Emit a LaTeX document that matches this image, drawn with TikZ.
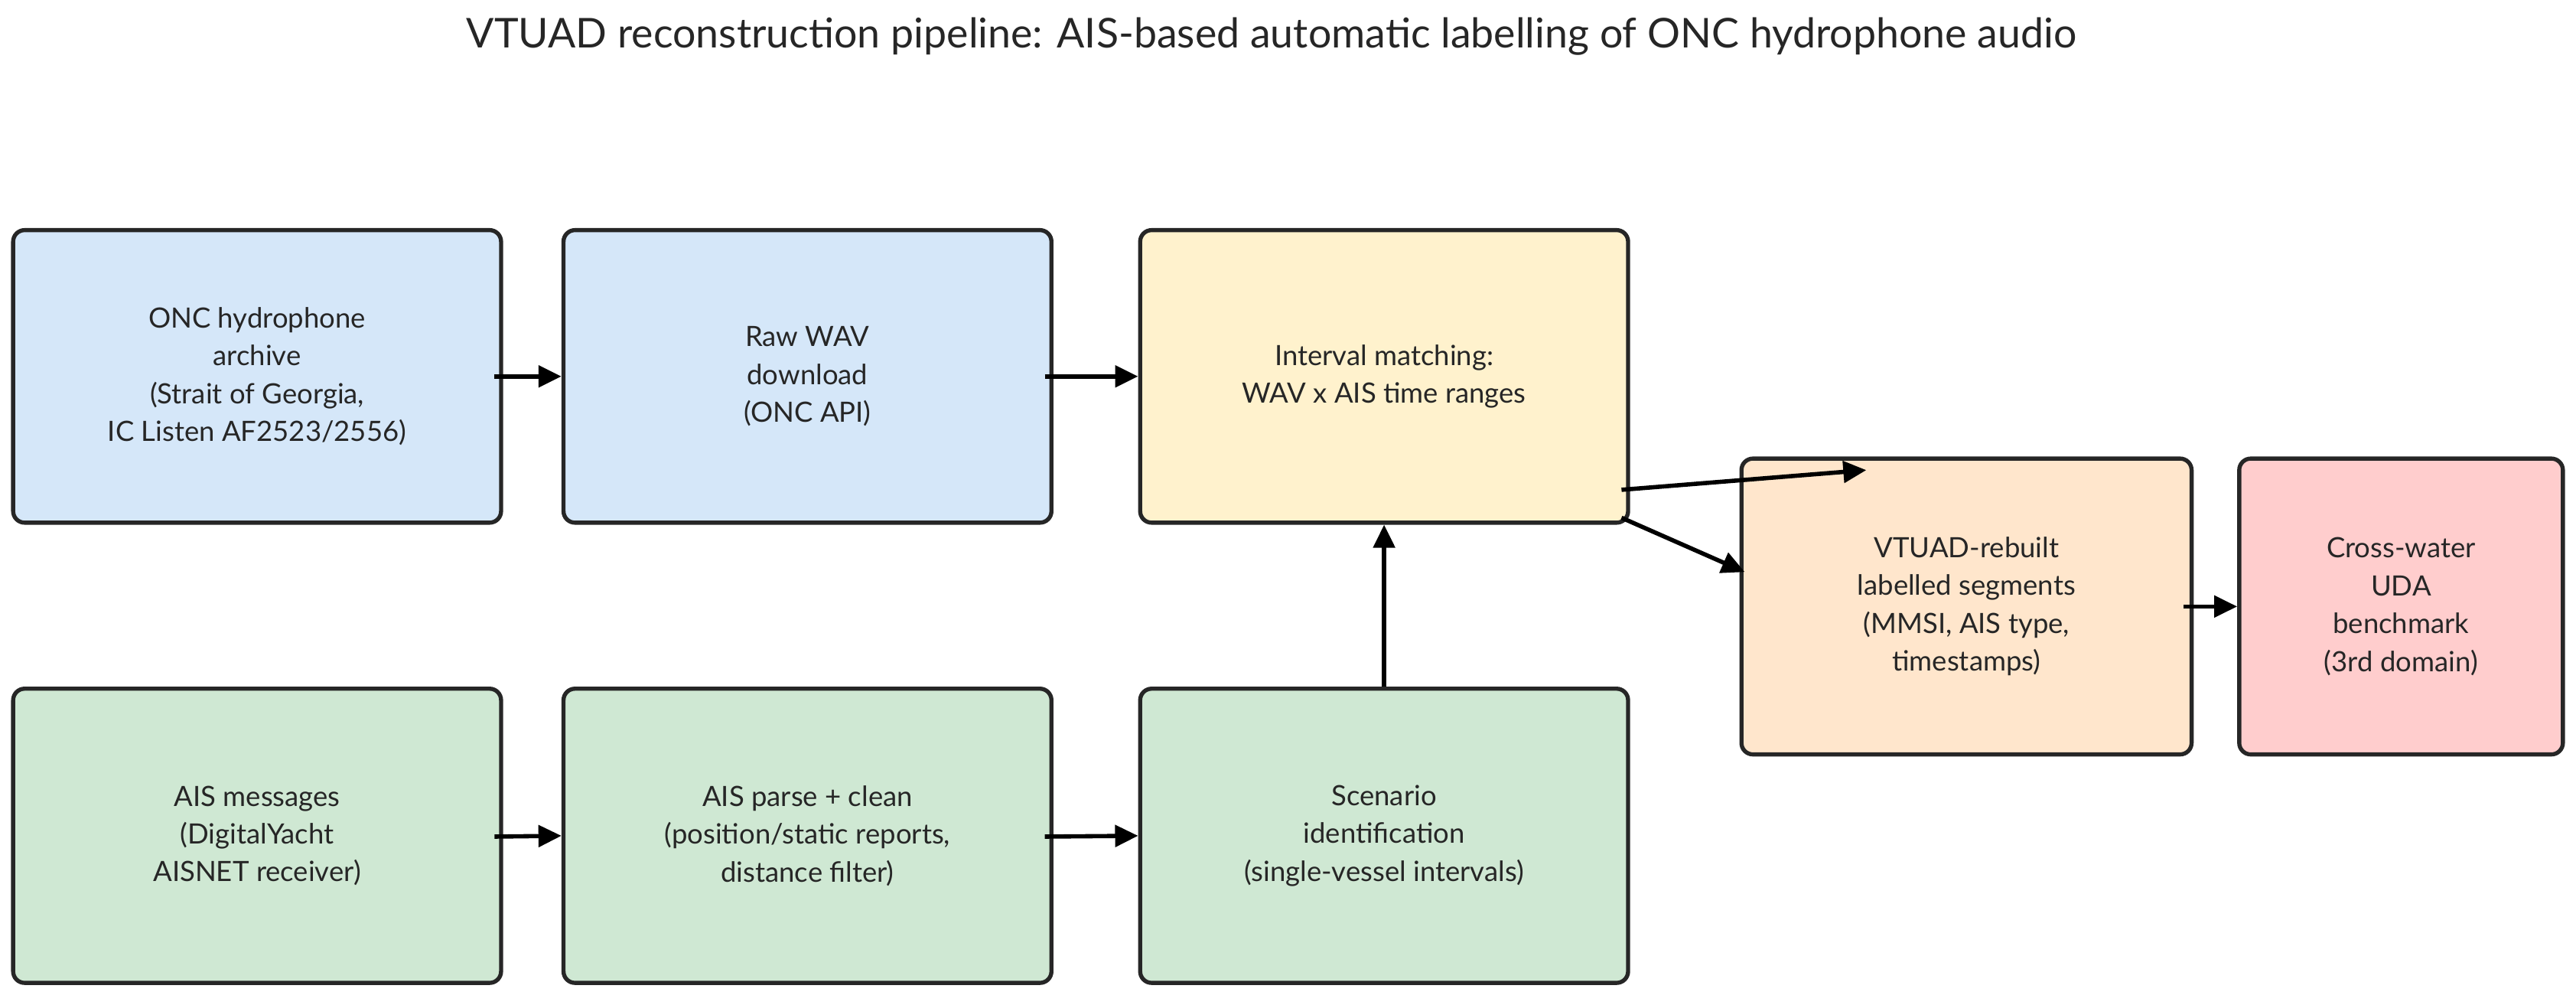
\documentclass[tikz,border=0pt]{standalone}
\usepackage{fontspec}
\setmainfont{Lato}
\usetikzlibrary{arrows.meta}
\definecolor{cblue}{HTML}{D5E7F9}
\definecolor{cgreen}{HTML}{CFE8D3}
\definecolor{cyellow}{HTML}{FFF2CD}
\definecolor{corange}{HTML}{FFE6CC}
\definecolor{cpink}{HTML}{FFCDCD}
\begin{document}
\begin{tikzpicture}[x=1pt,y=-1pt,
  box/.style={draw=black!85,line width=2.5pt,rounded corners=7pt,align=center,
    font=\fontsize{17}{23}\selectfont,text=black!85},
  arr/.style={-{Triangle[length=14pt,width=13pt]},line width=2.6pt}]
\useasboundingbox (0,0) rectangle (1568,611);
\node[font=\fontsize{25}{30}\selectfont,text=black!85] (title) at (774,22) {VTUAD reconstruction pipeline: AIS-based automatic labelling of ONC hydrophone audio};
\node[box,fill=cblue,minimum width=297pt,minimum height=178pt] (onc) at (156.5,229) {ONC hydrophone\\archive\\(Strait of Georgia,\\IC Listen AF2523/2556)};
\node[box,fill=cblue,minimum width=297pt,minimum height=178pt] (wav) at (491.5,229) {Raw WAV\\download\\(ONC API)};
\node[box,fill=cyellow,minimum width=297pt,minimum height=178pt] (match) at (842.5,229) {Interval matching:\\WAV x AIS time ranges};
\node[box,fill=cgreen,minimum width=297pt,minimum height=179pt] (ais) at (156.5,508.5) {AIS messages\\(DigitalYacht\\AISNET receiver)};
\node[box,fill=cgreen,minimum width=297pt,minimum height=179pt] (parse) at (491.5,508.5) {AIS parse + clean\\(position/static reports,\\distance filter)};
\node[box,fill=cgreen,minimum width=297pt,minimum height=179pt] (scen) at (842.5,508.5) {Scenario\\identification\\(single-vessel intervals)};
\node[box,fill=corange,minimum width=274pt,minimum height=180pt] (vt) at (1197,369) {VTUAD-rebuilt\\labelled segments\\(MMSI, AIS type,\\timestamps)};
\node[box,fill=cpink,minimum width=197pt,minimum height=180pt] (uda) at (1461.5,369) {Cross-water\\UDA\\benchmark\\(3rd domain)};
\coordinate (m1) at (987,298);
\coordinate (m2) at (987,315);
\coordinate (v1) at (1136,286);
\draw[arr] (301,229) -- (onc.east -| wav.west);
\draw[arr] (636,229) -- (match.west);
\draw[arr] (301,509) -- (parse.west);
\draw[arr] (636,509) -- (scen.west);
\draw[arr] (scen.north) -- (match.south);
\draw[arr] (m1) -- (v1);
\draw[arr] (m2) -- (1062,348) coordinate (v2);
\draw[arr] (1329,369) -- (uda.west);
\end{tikzpicture}
\end{document}
